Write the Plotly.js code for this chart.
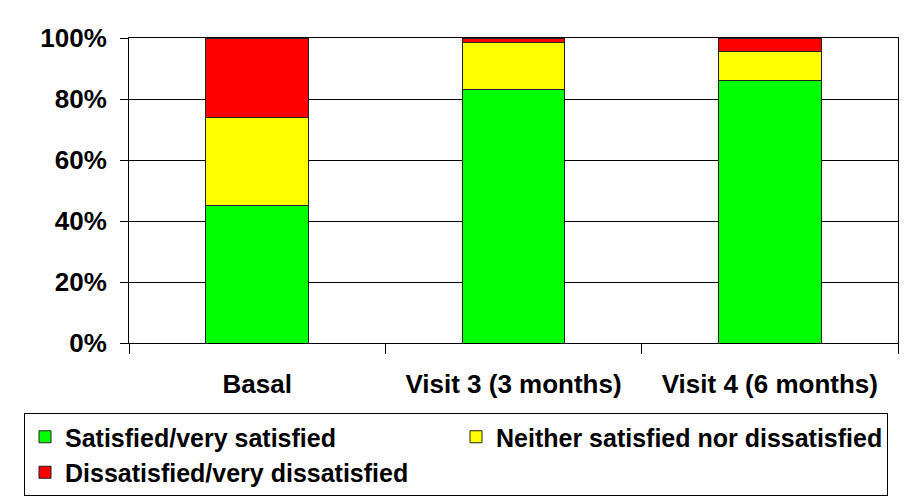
<!DOCTYPE html>
<html>
<head>
<meta charset="utf-8">
<script src="https://cdn.plot.ly/plotly-3.0.1.min.js"></script>
<style>html,body{margin:0;padding:0;background:#fff;}#chart{width:914px;height:503px;}</style>
</head>
<body>
<div id="chart"></div>
<script>
const categories = ["Basal", "Visit 3 (3 months)", "Visit 4 (6 months)"];
const satisfied = [45, 83, 86];
const neither = [29, 15.5, 9.5];
const dissatisfied = [26, 1.5, 4.5];
const seriesNames = ["Satisfied/very satisfied", "Neither satisfied nor dissatisfied", "Dissatisfied/very dissatisfied"];
const seriesColors = ["#00FF00", "#FFFF00", "#FF0000"];
const yTickVals = [0, 20, 40, 60, 80, 100];

const FONT = "Liberation Sans, Arial, sans-serif";
const series = [satisfied, neither, dissatisfied];
const traces = series.map((vals, i) => ({
  type: "bar",
  x: categories,
  y: vals,
  name: seriesNames[i],
  width: 0.4,
  marker: {color: seriesColors[i], line: {color: "#222", width: 1}},
  hoverinfo: "skip"
}));

const layout = {
  width: 914, height: 503,
  margin: {l: 129, r: 16, t: 38, b: 160, autoexpand: false},
  paper_bgcolor: "#fff", plot_bgcolor: "#fff",
  barmode: "stack",
  font: {family: FONT, size: 26, color: "#000", weight: 700},
  xaxis: {
    type: "category",
    showline: true, linecolor: "#000", linewidth: 1, mirror: true,
    ticks: "outside", tickson: "boundaries", ticklen: 10, tickcolor: "#000", tickwidth: 1,
    showgrid: false,
    tickfont: {family: FONT, size: 26, color: "#000", weight: 700},
    ticklabelstandoff: 18
  },
  yaxis: {
    range: [0, 100],
    tickvals: yTickVals,
    ticktext: yTickVals.map(v => v + "%"),
    showline: true, linecolor: "#000", linewidth: 1, mirror: true,
    ticks: "outside", ticklen: 8, tickcolor: "#000", tickwidth: 1,
    showgrid: true, gridcolor: "#000", gridwidth: 1,
    zeroline: false,
    tickfont: {family: FONT, size: 26, color: "#000", weight: 700},
    ticklabelstandoff: 8
  },
  showlegend: true,
  legend: {
    orientation: "h",
    x: (24 - 129) / 769, xanchor: "left",
    y: (343 - 413) / 305, yanchor: "top",
    traceorder: "normal",
    bordercolor: "#000", borderwidth: 1,
    bgcolor: "#fff",
    entrywidth: 386,
    font: {family: FONT, size: 25, color: "#000", weight: 700}
  }
};

Plotly.newPlot("chart", traces, layout, {displayModeBar: false, staticPlot: true});
</script>
</body>
</html>
